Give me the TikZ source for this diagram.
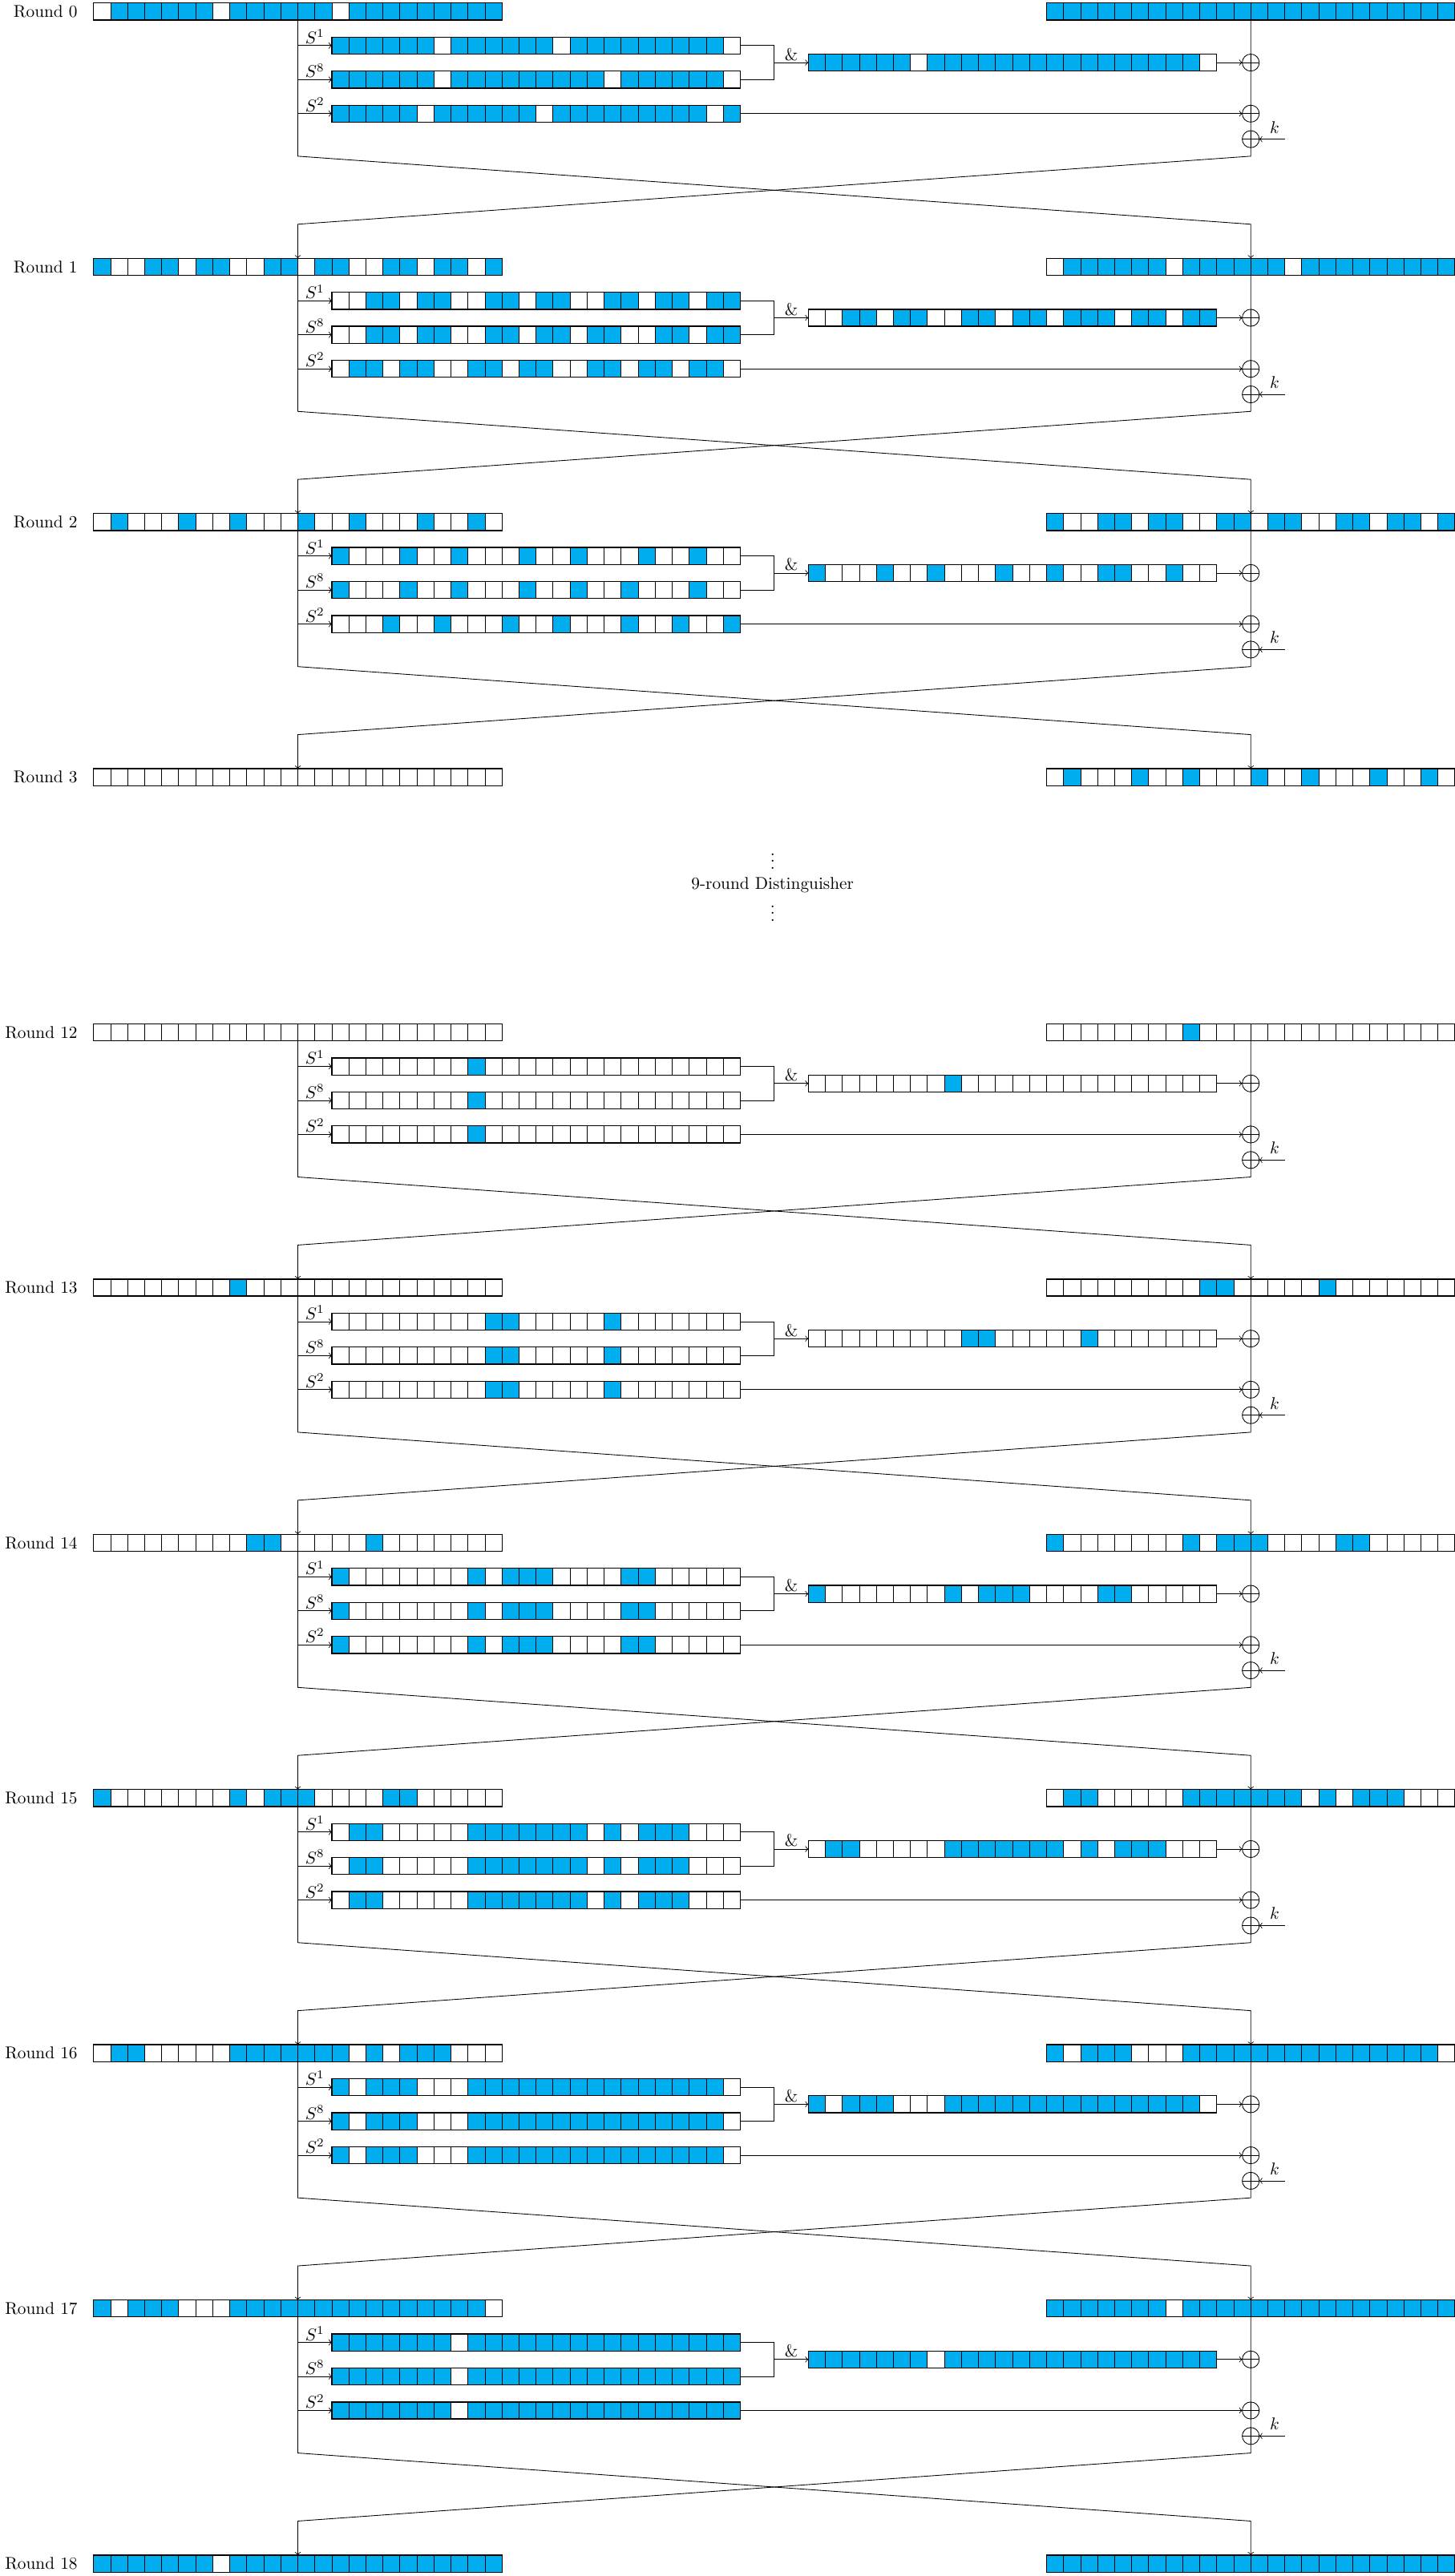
\documentclass[tikz,border=0pt]{standalone}
\usepackage{tikz}
\usetikzlibrary{calc,positioning}

\definecolor{actblue}{HTML}{00AEEF}

\tikzset{
  regbox/.style={inner sep=0pt, outer sep=0pt, minimum width=8.4cm, minimum height=0.35cm},
  bit0/.style={draw=black, fill=white, thin},
  bit1/.style={draw=black, fill=actblue, thin},
  regline/.style={draw=black, semithick},
  xorbox/.style={circle, draw, thin, inner sep=0pt, outer sep=0pt, minimum size=0.35cm,
    path picture={\draw (path picture bounding box.north) -- (path picture bounding box.south)
                        (path picture bounding box.west) -- (path picture bounding box.east);}},
  wire/.style={draw=black, thin},
  arr/.style={wire, ->},
  roundlbl/.style={anchor=east, inner sep=0pt},
  oplbl/.style={above, inner sep=1pt},
}

% bit patterns, cell 0 on the left
\newcommand*{\patNone}{0,0,0,0,0,0,0,0,0,0,0,0,0,0,0,0,0,0,0,0,0,0,0,0}
\newcommand*{\patAll}{1,1,1,1,1,1,1,1,1,1,1,1,1,1,1,1,1,1,1,1,1,1,1,1}
\newcommand*{\patLA}{0,1,1,1,1,1,1,0,1,1,1,1,1,1,0,1,1,1,1,1,1,1,1,1}
\newcommand*{\patOneA}{1,1,1,1,1,1,0,1,1,1,1,1,1,0,1,1,1,1,1,1,1,1,1,0}
\newcommand*{\patEightA}{1,1,1,1,1,1,0,1,1,1,1,1,1,1,1,1,0,1,1,1,1,1,1,0}
\newcommand*{\patTwoA}{1,1,1,1,1,0,1,1,1,1,1,1,0,1,1,1,1,1,1,1,1,1,0,1}
\newcommand*{\patAndA}{1,1,1,1,1,1,0,1,1,1,1,1,1,1,1,1,1,1,1,1,1,1,1,0}
\newcommand*{\patLB}{1,0,0,1,1,0,1,1,0,0,1,1,0,1,1,0,0,1,1,0,1,1,0,1}
\newcommand*{\patOneB}{0,0,1,1,0,1,1,0,0,1,1,0,1,1,0,0,1,1,0,1,1,0,1,1}
\newcommand*{\patEightB}{0,0,1,1,0,1,1,0,0,1,1,0,1,1,0,1,1,0,0,1,1,0,1,1}
\newcommand*{\patTwoB}{0,1,1,0,1,1,0,0,1,1,0,1,1,0,0,1,1,0,1,1,0,1,1,0}
\newcommand*{\patAndB}{0,0,1,1,0,1,1,0,0,1,1,0,1,1,0,1,1,1,0,1,1,0,1,1}
\newcommand*{\patLC}{0,1,0,0,0,1,0,0,1,0,0,0,1,0,0,1,0,0,0,1,0,0,1,0}
\newcommand*{\patOneC}{1,0,0,0,1,0,0,1,0,0,0,1,0,0,1,0,0,0,1,0,0,1,0,0}
\newcommand*{\patEightC}{1,0,0,0,1,0,0,1,0,0,0,1,0,0,1,0,0,1,0,0,0,1,0,0}
\newcommand*{\patTwoC}{0,0,0,1,0,0,1,0,0,0,1,0,0,1,0,0,0,1,0,0,1,0,0,1}
\newcommand*{\patAndC}{1,0,0,0,1,0,0,1,0,0,0,1,0,0,1,0,0,1,1,0,0,1,0,0}
\newcommand*{\patM}{0,0,0,0,0,0,0,0,1,0,0,0,0,0,0,0,0,0,0,0,0,0,0,0}
\newcommand*{\patN}{0,0,0,0,0,0,0,0,0,1,1,0,0,0,0,0,1,0,0,0,0,0,0,0}
\newcommand*{\patO}{1,0,0,0,0,0,0,0,1,0,1,1,1,0,0,0,0,1,1,0,0,0,0,0}
\newcommand*{\patP}{0,1,1,0,0,0,0,0,1,1,1,1,1,1,1,0,1,0,1,1,1,0,0,0}
\newcommand*{\patQ}{1,0,1,1,1,0,0,0,1,1,1,1,1,1,1,1,1,1,1,1,1,1,1,0}
\newcommand*{\patS}{1,1,1,1,1,1,1,0,1,1,1,1,1,1,1,1,1,1,1,1,1,1,1,1}

% name, left x, centre y, bits
\newcommand{\bitreg}[4]{%
  \node[regbox, anchor=west] (#1) at (#2,#3) {};
  \foreach \b [count=\i from 0] in #4
    \draw[bit\b] ($(#1.south west)+(\i,0)$) rectangle ++(1,1);
  \draw[regline] (#1.south west) rectangle (#1.north east);
}

% round, centre y, left bits, right bits
\newcommand{\regrow}[4]{%
  \node[roundlbl] (lab#1) at (4.57,#2) {Round #1};
  \bitreg{L#1}{5.5}{#2}{#3}
  \bitreg{R#1}{61.5}{#2}{#4}
}

% round, next round, centre y, S1, S8, S2, AND bits
\newcommand{\roundfn}[7]{%
  \bitreg{sa#1}{19.5}{#3-2}{#4}
  \bitreg{sb#1}{19.5}{#3-4}{#5}
  \bitreg{sc#1}{19.5}{#3-6}{#6}
  \bitreg{an#1}{47.5}{#3-3}{#7}
  \node[xorbox] (xa#1) at (73.5,#3-3) {};
  \node[xorbox] (xb#1) at (73.5,#3-6) {};
  \node[xorbox] (xk#1) at (73.5,#3-7.5) {};
  \coordinate (ta#1) at (17.5,#3-2);
  \coordinate (tb#1) at (17.5,#3-4);
  \coordinate (tc#1) at (17.5,#3-6);
  \coordinate (ja#1) at (45.5,#3-2);
  \coordinate (jb#1) at (45.5,#3-4);
  \coordinate (jm#1) at (45.5,#3-3);
  \coordinate (kin#1) at (75.5,#3-7.5);
  \coordinate (dl#1) at (17.5,#3-8.5);
  \coordinate (dr#1) at (73.5,#3-8.5);
  \coordinate (ul#1) at (17.5,#3-12.5);
  \coordinate (ur#1) at (73.5,#3-12.5);
  \draw[arr] (ta#1) -- node[oplbl] {$S^1$} (sa#1.west);
  \draw[arr] (tb#1) -- node[oplbl] {$S^8$} (sb#1.west);
  \draw[arr] (tc#1) -- node[oplbl] {$S^2$} (sc#1.west);
  \draw[wire] (sa#1.east) -- (ja#1) -- (jb#1) -- (sb#1.east);
  \draw[arr] (jm#1) -- node[oplbl] {\&} (an#1.west);
  \draw[arr] (an#1.east) -- (xa#1);
  \draw[arr] (sc#1.east) -- (xb#1);
  \draw[arr] (kin#1) -- node[above, pos=0.4] {$k$} (xk#1);
  \draw[arr] (L#1.south) -- (dl#1) -- (ur#1) -- (R#2.north);
  \draw[arr] (R#1.south) -- (dr#1) -- (ul#1) -- (L#2.north);
}

\begin{document}
\begin{tikzpicture}[x=0.35cm, y=0.35cm]
  \useasboundingbox (0,0.68) rectangle (85.5,-150.73);

  \regrow{0}{0}{\patLA}{\patAll}
  \regrow{1}{-15}{\patLB}{\patLA}
  \regrow{2}{-30}{\patLC}{\patLB}
  \regrow{3}{-45}{\patNone}{\patLC}
  \regrow{12}{-60}{\patNone}{\patM}
  \regrow{13}{-75}{\patM}{\patN}
  \regrow{14}{-90}{\patN}{\patO}
  \regrow{15}{-105}{\patO}{\patP}
  \regrow{16}{-120}{\patP}{\patQ}
  \regrow{17}{-135}{\patQ}{\patS}
  \regrow{18}{-150}{\patS}{\patAll}

  \roundfn{0}{1}{0}{\patOneA}{\patEightA}{\patTwoA}{\patAndA}
  \roundfn{1}{2}{-15}{\patOneB}{\patEightB}{\patTwoB}{\patAndB}
  \roundfn{2}{3}{-30}{\patOneC}{\patEightC}{\patTwoC}{\patAndC}
  \roundfn{12}{13}{-60}{\patM}{\patM}{\patM}{\patM}
  \roundfn{13}{14}{-75}{\patN}{\patN}{\patN}{\patN}
  \roundfn{14}{15}{-90}{\patO}{\patO}{\patO}{\patO}
  \roundfn{15}{16}{-105}{\patP}{\patP}{\patP}{\patP}
  \roundfn{16}{17}{-120}{\patQ}{\patQ}{\patQ}{\patQ}
  \roundfn{17}{18}{-135}{\patS}{\patS}{\patS}{\patS}

  % skipped middle rounds
  \node (dtop) at (45.4,-49.65) {$\vdots$};
  \node (dtxt) at (45.4,-51.35) {9-round Distinguisher};
  \node (dbot) at (45.4,-52.7) {$\vdots$};
\end{tikzpicture}
\end{document}
